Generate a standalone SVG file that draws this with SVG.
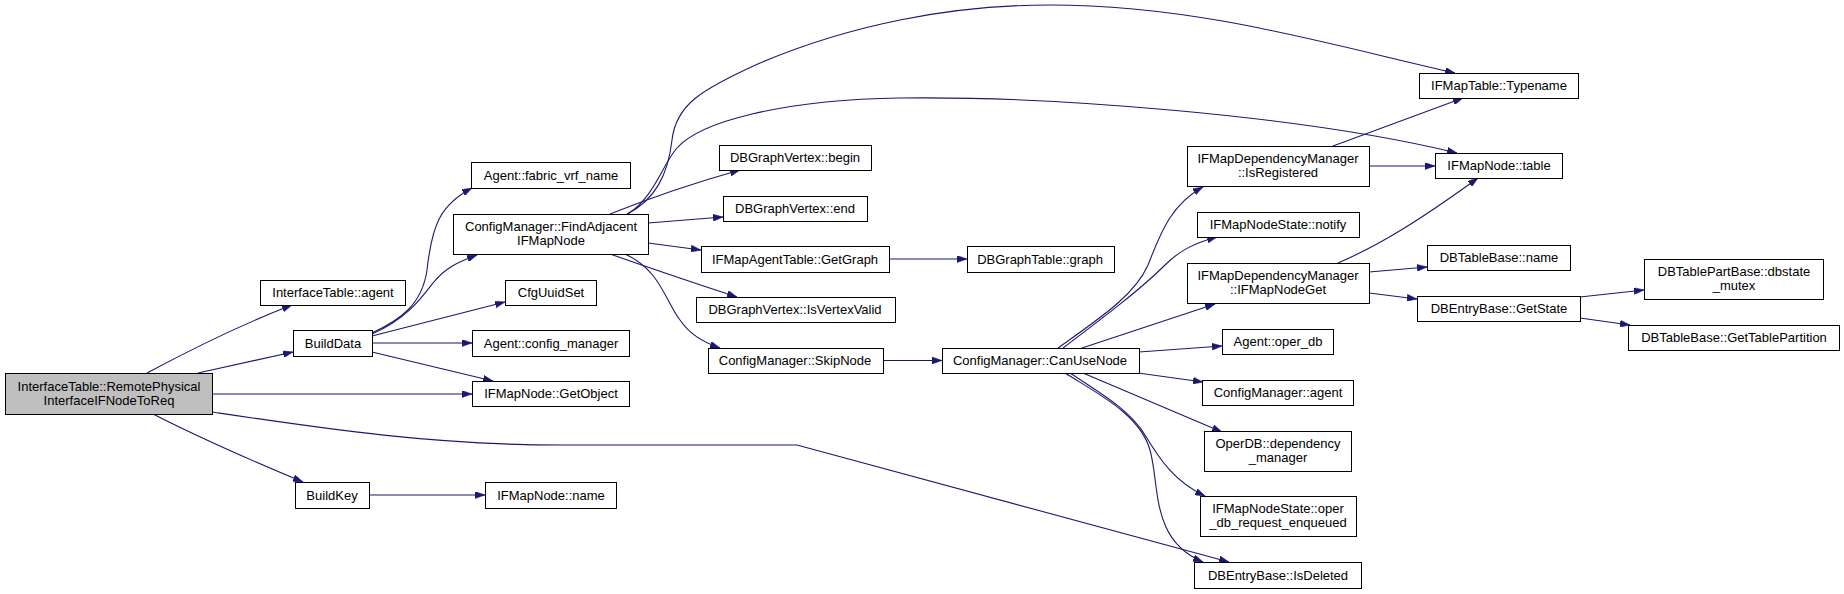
<svg xmlns="http://www.w3.org/2000/svg" width="1844" height="594" viewBox="0 0 1844 594">
<style>
.n rect{fill:#fff;stroke:#000;stroke-width:1}
.n text{font-family:"Liberation Sans",Arial,sans-serif;font-size:13px;fill:#000;text-anchor:middle}
#root rect{fill:#bfbfbf}
.e path{fill:none;stroke:#191970;stroke-width:1.1;marker-end:url(#ah)}
</style>
<defs>
<marker id="ah" viewBox="0 0 10 7" refX="10" refY="3.5" markerWidth="10" markerHeight="7" markerUnits="userSpaceOnUse" orient="auto">
<path d="M0,0 L10,3.5 L0,7 z" fill="#191970" stroke="#191970" stroke-width="0.5"/>
</marker>
</defs>
<rect width="1844" height="594" fill="#fff"/>
<g id="edges" class="e">
<path d="M147,373 C190,350 240,325 292,305"/>
<path d="M198,373 C230,366 262,359 293,352"/>
<path d="M212,394 L472,394"/>
<path d="M212,412 C320,428 430,445 560,445 L797,445 L1229,562"/>
<path d="M153,414 C200,438 255,462 303,482"/>
<path d="M372,333 C400,320 422,305 427,270 C432,225 440,205 472,188"/>
<path d="M372,334 C405,320 420,300 433,283 C445,268 458,262 477,255"/>
<path d="M372,336 L505,302"/>
<path d="M372,343 L472,343"/>
<path d="M372,352 L493,381"/>
<path d="M627,214 C655,200 668,175 672,140 C676,105 700,90 760,63 C850,25 950,5 1050,5 C1200,5 1330,45 1455,73"/>
<path d="M628,214 C655,196 662,165 677,148 C700,122 780,100 900,98 C1050,96 1300,115 1457,153"/>
<path d="M610,214 C650,198 690,184 740,170"/>
<path d="M648,223 L723,217"/>
<path d="M648,243 L701,250"/>
<path d="M610,254 C650,268 700,285 737,297"/>
<path d="M625,254 C660,270 665,300 680,320 C690,335 705,343 720,348"/>
<path d="M889,259 L967,259"/>
<path d="M883,360.5 L942,360.5"/>
<path d="M369,495 L485,495"/>
<path d="M1058,348 C1100,318 1135,295 1148,265 C1160,235 1170,205 1203,187"/>
<path d="M1063,348 C1100,320 1140,290 1165,265 C1180,250 1195,243 1217,237"/>
<path d="M1082,348 L1215,304"/>
<path d="M1139,352 L1222,346"/>
<path d="M1138,373 L1203,382"/>
<path d="M1083,373 L1222,432"/>
<path d="M1070,373 C1100,393 1130,410 1145,435 C1160,460 1175,482 1205,496"/>
<path d="M1065,373 C1100,395 1140,415 1150,450 C1160,485 1150,540 1203,562"/>
<path d="M1333,146 L1463,98"/>
<path d="M1369,166 L1435,166"/>
<path d="M1338,263 C1380,245 1420,220 1478,178"/>
<path d="M1369,272 L1427,267"/>
<path d="M1369,293 L1417,299"/>
<path d="M1580,297 L1644,290"/>
<path d="M1580,318 L1630,325"/>
</g>
<g id="root" class="n"><rect x="5.5" y="373.5" width="207" height="41"/><text x="109" y="391">InterfaceTable::RemotePhysical</text><text x="109" y="405">InterfaceIFNodeToReq</text></g>
<g id="n_itagent" class="n"><rect x="260.5" y="280.5" width="145" height="25"/><text x="333" y="297">InterfaceTable::agent</text></g>
<g id="n_builddata" class="n"><rect x="293.5" y="330.5" width="79" height="26"/><text x="333" y="348">BuildData</text></g>
<g id="n_buildkey" class="n"><rect x="295.5" y="482.5" width="74" height="26"/><text x="332" y="500">BuildKey</text></g>
<g id="n_fabric" class="n"><rect x="471.5" y="162.5" width="159" height="26"/><text x="551" y="180">Agent::fabric_vrf_name</text></g>
<g id="n_findadj" class="n"><rect x="453.5" y="214.5" width="195" height="40"/><text x="551" y="231">ConfigManager::FindAdjacent</text><text x="551" y="245">IFMapNode</text></g>
<g id="n_cfguuid" class="n"><rect x="505.5" y="280.5" width="91" height="25"/><text x="551" y="297">CfgUuidSet</text></g>
<g id="n_cfgmgr" class="n"><rect x="472.5" y="330.5" width="157" height="26"/><text x="551" y="348">Agent::config_manager</text></g>
<g id="n_getobj" class="n"><rect x="472.5" y="381.5" width="157" height="25"/><text x="551" y="398">IFMapNode::GetObject</text></g>
<g id="n_ifname" class="n"><rect x="485.5" y="482.5" width="131" height="26"/><text x="551" y="500">IFMapNode::name</text></g>
<g id="n_begin" class="n"><rect x="719.5" y="145.5" width="152" height="25"/><text x="795" y="162">DBGraphVertex::begin</text></g>
<g id="n_end" class="n"><rect x="723.5" y="196.5" width="144" height="25"/><text x="795" y="213">DBGraphVertex::end</text></g>
<g id="n_getgraph" class="n"><rect x="701.5" y="246.5" width="188" height="26"/><text x="795" y="264">IFMapAgentTable::GetGraph</text></g>
<g id="n_isvalid" class="n"><rect x="696.5" y="297.5" width="199" height="25"/><text x="795" y="314">DBGraphVertex::IsVertexValid</text></g>
<g id="n_skip" class="n"><rect x="708.5" y="348.5" width="175" height="25"/><text x="795" y="365">ConfigManager::SkipNode</text></g>
<g id="n_graph" class="n"><rect x="967.5" y="246.5" width="147" height="26"/><text x="1040" y="264">DBGraphTable::graph</text></g>
<g id="n_canuse" class="n"><rect x="942.5" y="348.5" width="197" height="25"/><text x="1040" y="365">ConfigManager::CanUseNode</text></g>
<g id="n_isreg" class="n"><rect x="1187.5" y="146.5" width="182" height="40"/><text x="1278" y="163">IFMapDependencyManager</text><text x="1278" y="177">::IsRegistered</text></g>
<g id="n_notify" class="n"><rect x="1197.5" y="212.5" width="162" height="25"/><text x="1278" y="229">IFMapNodeState::notify</text></g>
<g id="n_nodeget" class="n"><rect x="1187.5" y="263.5" width="182" height="40"/><text x="1278" y="280">IFMapDependencyManager</text><text x="1278" y="294">::IFMapNodeGet</text></g>
<g id="n_operdb" class="n"><rect x="1222.5" y="329.5" width="111" height="25"/><text x="1278" y="346">Agent::oper_db</text></g>
<g id="n_cmagent" class="n"><rect x="1202.5" y="380.5" width="151" height="25"/><text x="1278" y="397">ConfigManager::agent</text></g>
<g id="n_depmgr" class="n"><rect x="1204.5" y="431.5" width="147" height="40"/><text x="1278" y="448">OperDB::dependency</text><text x="1278" y="462">_manager</text></g>
<g id="n_enq" class="n"><rect x="1200.5" y="496.5" width="156" height="40"/><text x="1278" y="513">IFMapNodeState::oper</text><text x="1278" y="527">_db_request_enqueued</text></g>
<g id="n_isdel" class="n"><rect x="1194.5" y="562.5" width="167" height="26"/><text x="1278" y="580">DBEntryBase::IsDeleted</text></g>
<g id="n_typename" class="n"><rect x="1419.5" y="73.5" width="159" height="25"/><text x="1499" y="90">IFMapTable::Typename</text></g>
<g id="n_table" class="n"><rect x="1435.5" y="153.5" width="127" height="25"/><text x="1499" y="170">IFMapNode::table</text></g>
<g id="n_tbname" class="n"><rect x="1427.5" y="245.5" width="143" height="25"/><text x="1499" y="262">DBTableBase::name</text></g>
<g id="n_getstate" class="n"><rect x="1417.5" y="296.5" width="163" height="25"/><text x="1499" y="313">DBEntryBase::GetState</text></g>
<g id="n_mutex" class="n"><rect x="1644.5" y="259.5" width="179" height="40"/><text x="1734" y="276">DBTablePartBase::dbstate</text><text x="1734" y="290">_mutex</text></g>
<g id="n_partition" class="n"><rect x="1628.5" y="325.5" width="211" height="25"/><text x="1734" y="342">DBTableBase::GetTablePartition</text></g>
</svg>
